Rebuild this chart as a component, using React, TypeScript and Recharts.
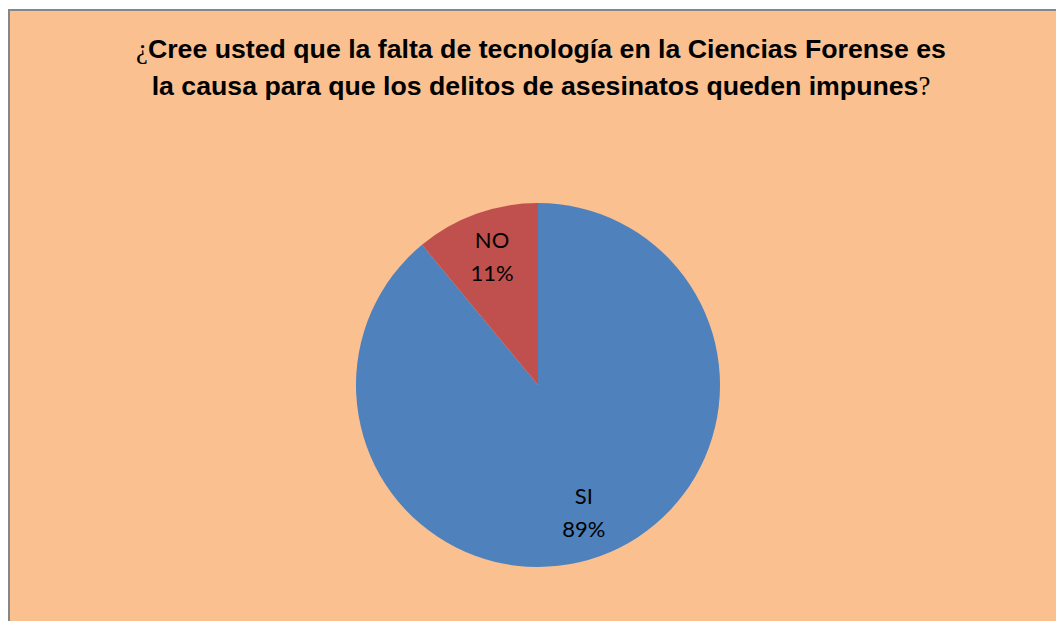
import { PieChart, Pie, Cell } from 'recharts';

const categories = ['SI', 'NO'];
const values = [89, 11];
const colors = ['#4F81BD', '#C0504D'];

const data = categories.map((name, i) => ({ name, value: values[i] }));

const RAD = Math.PI / 180;

interface LabelProps {
  cx?: number;
  cy?: number;
  midAngle?: number;
  outerRadius?: number;
  name?: string;
  percent?: number;
}

function SliceLabel({ cx = 0, cy = 0, midAngle = 0, outerRadius = 0, name, percent = 0 }: LabelProps) {
  const r = outerRadius * 0.745;
  const x = cx + r * Math.cos(-midAngle * RAD);
  const y = cy + r * Math.sin(-midAngle * RAD);
  return (
    <text
      x={x}
      y={y}
      textAnchor="middle"
      fill="#000"
      style={{ fontFamily: 'Lato, "Open Sans", sans-serif', fontSize: 22 }}
    >
      <tspan x={x} dy={-9}>{name}</tspan>
      <tspan x={x} dy={33}>{`${Math.round(percent * 100)}%`}</tspan>
    </text>
  );
}

export default function App() {
  return (
    <div
      style={{
        position: 'relative',
        marginTop: 1,
        width: 1060,
        height: 620,
        background: '#FAC090',
        border: '2px solid #878787',
        borderRight: 'none',
        borderBottom: 'none',
      }}
    >
      <div
        style={{
          position: 'absolute',
          left: 0,
          top: 20,
          width: 1062,
          textAlign: 'center',
          fontFamily: '"Liberation Sans", Arial, sans-serif',
          fontWeight: 700,
          fontSize: 26.7,
          lineHeight: '37px',
          color: '#000',
        }}
      >
        <span style={{ fontFamily: '"Liberation Serif", serif', fontWeight: 400 }}>¿</span>
        Cree usted que la falta de tecnología en la Ciencias Forense es
        <br />
        la causa para que los delitos de asesinatos queden impunes
        <span style={{ fontFamily: '"Liberation Serif", serif', fontWeight: 400 }}>?</span>
      </div>
      <div style={{ position: 'absolute', left: 0, top: 0 }}>
        <PieChart width={1060} height={620}>
          <Pie
            data={data}
            dataKey="value"
            nameKey="name"
            cx={523}
            cy={369}
            outerRadius={182}
            startAngle={90}
            endAngle={-270}
            stroke="none"
            label={<SliceLabel />}
            labelLine={false}
            isAnimationActive={false}
          >
            {data.map((d, i) => (
              <Cell key={d.name} fill={colors[i]} />
            ))}
          </Pie>
        </PieChart>
      </div>
    </div>
  );
}
